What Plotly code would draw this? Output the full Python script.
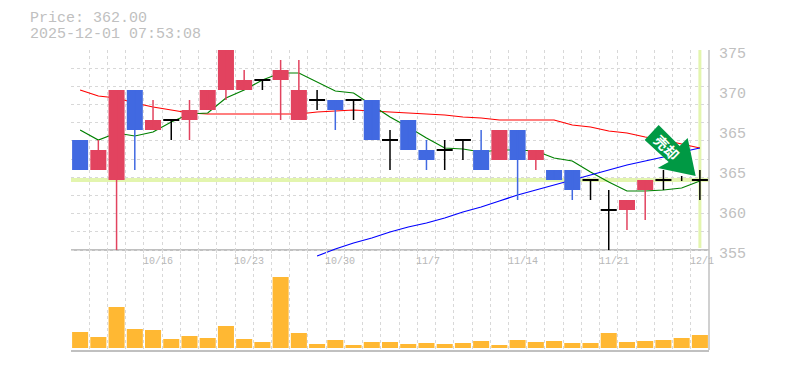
import plotly.graph_objects as go

dates = ["10/9","10/10","10/14","10/15","10/16","10/17","10/20","10/21","10/22","10/23","10/24","10/27",
         "10/28","10/29","10/30","10/31","11/4","11/5","11/6","11/7","11/10","11/11","11/12","11/13","11/14",
         "11/17","11/18","11/19","11/20","11/21","11/25","11/26","11/27","11/28","12/1"]
opens = [366,363,362,371,367,368,368,369,371,371,372,372,368,370,370,370,370,366,368,365,365,366,365,364,367,364,363,363,362,359,359,361,362,None,362]
closes = [363,365,371,367,368,368,369,371,375,372,372,373,371,370,369,370,366,366,365,364,365,366,363,367,364,365,362,361,362,359,360,362,362,None,362]
highs = [366,366,371,371,370,368,370,371,375,373,372,374,374,371,370,370,370,367,368,366,366,366,367,367,367,365,363,363,362,361,360,362,363,362.4,363]
lows = [363,363,355,363,367,366,366,369,370,371,371,368,368,369,367,368,366,363,365,363,363,364,363,364,360,363,362,360,360,355,357,358,361,361.9,360]
volumes = [16,11,41,19,18,9,12,10,22,9,6,71,15,4,8,3,6,6,4,5,4,5,7,3,8,6,7,5,5,15,6,7,8,10,13]
ma_green = [367.0,366.0,366.7,366.4,366.8,367.8,368.6,368.7,370.2,371.0,372.0,372.7,372.7,371.8,370.9,370.7,369.5,368.3,367.3,366.2,365.2,365.1,364.8,365.0,365.0,364.9,364.2,363.9,362.8,361.8,360.9,360.9,361.0,361.2,361.9]
ma_red = [371.0,370.4,370.2,369.7,369.3,369.0,368.7,368.6,368.6,368.6,368.6,368.6,368.6,368.8,368.9,369.0,368.9,368.8,368.7,368.6,368.5,368.3,368.2,368.0,368.0,368.0,368.0,367.5,367.3,366.9,366.7,366.3,366.0,365.6,365.2]
ma_blue = [None]*13 + [354.4,355.1,355.7,356.2,356.8,357.3,357.7,358.2,358.8,359.3,359.9,360.5,361.0,361.5,362.0,362.5,363.0,363.5,363.9,364.3,364.8,365.2]
last_price = 362
y_labels = ["355","360","365","365","370","375"]
y_label_vals = [355,359,363,367,371,375]
x_label_dates = ["10/16","10/23","10/30","11/7","11/14","11/21","12/1"]

UP, DOWN, DOJI = "#E2435F", "#4169E1", "#000000"
GRAY = "#c0c0c0"; GRID = "#d8d8d8"
idx = list(range(len(dates)))

def col(o, c):
    if o is None:
        return DOJI
    return UP if c > o else DOWN if c < o else DOJI

fig = go.Figure()
# moving averages sit behind the candles (main subplot)
for vals, color in ((ma_red, "#FF0000"), (ma_green, "#008000"), (ma_blue, "#0000FF")):
    fig.add_trace(go.Scatter(x=idx, y=vals, mode="lines", line=dict(color=color, width=1.2),
                             xaxis="x", yaxis="y", hoverinfo="skip"))
# candle bodies on an overlay subplot
body_x, body_base, body_h, cols = [], [], [], []
for i, o, c in zip(idx, opens, closes):
    if o is None:
        continue
    body_x.append(i)
    if o == c:
        body_base.append(o - 0.05); body_h.append(0.1); cols.append(DOJI)
    else:
        body_base.append(min(o, c)); body_h.append(abs(c - o)); cols.append(col(o, c))
fig.add_trace(go.Bar(x=body_x, y=body_h, base=body_base, width=0.88, marker=dict(color=cols, line_width=0),
                     xaxis="x3", yaxis="y3", hoverinfo="skip"))
for c_name in (UP, DOWN, DOJI):
    xs, ys = [], []
    for i in idx:
        if col(opens[i], closes[i]) == c_name:
            xs += [i, i, None]; ys += [lows[i], highs[i], None]
    fig.add_trace(go.Scatter(x=xs, y=ys, mode="lines", line=dict(color=c_name, width=1.5),
                             xaxis="x3", yaxis="y3", hoverinfo="skip"))
fig.add_trace(go.Bar(x=idx, y=volumes, width=0.88, marker=dict(color="#FFB833", line_width=0),
                     xaxis="x", yaxis="y2", hoverinfo="skip"))

grid = dict(showgrid=True, gridcolor=GRID, griddash="3px,3px", gridwidth=1)
xcommon = dict(range=[-0.5, 34.5], tickmode="linear", tick0=-0.5, dtick=1, showticklabels=False, ticks="", zeroline=False)
# the price axis runs one unit below 355 so the blue average can dip under the panel edge
fig.update_layout(
    width=777, height=362, margin=dict(l=63, r=76, t=42, b=20), autosize=False,
    paper_bgcolor="white", plot_bgcolor="rgba(0,0,0,0)", showlegend=False, barmode="overlay",
    font=dict(family="Liberation Mono", color=GRAY),
    xaxis=dict(**xcommon, **grid, anchor="y2", showline=True, linecolor=GRAY, linewidth=2, mirror=False),
    xaxis3=dict(**xcommon, showgrid=False, anchor="y3", overlaying="x", visible=False),
    yaxis=dict(domain=[0.3, 1], range=[354, 375], tickmode="linear", tick0=355, dtick=20/11, showticklabels=False,
               ticks="", zeroline=False, **grid, side="right", anchor="x"),
    yaxis2=dict(domain=[0, 1/3], range=[-2, 98], showticklabels=False, ticks="", zeroline=False, showgrid=False, anchor="x"),
    yaxis3=dict(range=[354, 375], overlaying="y", visible=False, anchor="x3"),
)
# panel edge and right-hand frame
fig.add_shape(type="line", xref="paper", yref="y", x0=0, x1=1, y0=355, y1=355, line=dict(color=GRAY, width=2), layer="below")
fig.add_shape(type="line", xref="paper", yref="paper", x0=1, x1=1, y0=0, y1=1, line=dict(color=GRAY, width=1.5))
# last-price cross hairs, under the traces
fig.add_shape(type="line", xref="paper", yref="y", x0=0, x1=1, y0=last_price, y1=last_price,
              line=dict(color="#E3F5AE", width=4), layer="below")
fig.add_shape(type="line", xref="x", yref="y", x0=34, x1=34, y0=355.2, y1=375,
              line=dict(color="#E3F5AE", width=3), layer="below")
# signal arrow anchored near the last candles, size in pixels
fig.add_shape(type="path", xref="x", yref="y", xsizemode="pixel", ysizemode="pixel", xanchor=33, yanchor=362,
              path="M -23 55 L -37 40 L -13 18 L -24 12 L 14 4 L 6 42 L -2 34 Z",
              fillcolor="#009944", line_width=0, layer="above")
fig.add_annotation(xref="x", yref="y", x=33, y=362, xshift=-15, yshift=33, text="<b>売却</b>", showarrow=False, textangle=45,
                   font=dict(family="Noto Sans CJK JP", size=14, color="white"))
for t, v in zip(y_labels, y_label_vals):
    fig.add_annotation(xref="paper", yref="y", x=1, y=v, xshift=8, yshift=-4, xanchor="left", text=t, showarrow=False,
                       font=dict(size=15, color=GRAY))
for t in x_label_dates:
    fig.add_annotation(xref="x", yref="paper", x=dates.index(t), y=1/3, yshift=-19, xshift=-12, xanchor="left", text=t,
                       showarrow=False, font=dict(size=10, color="#b8b8b8"))
fig.add_annotation(xref="paper", yref="paper", x=0, y=1, xshift=-43, yshift=32, xanchor="left", yanchor="middle",
                   text="Price: 362.00", showarrow=False, font=dict(size=15, color=GRAY))
fig.add_annotation(xref="paper", yref="paper", x=0, y=1, xshift=-43, yshift=16, xanchor="left", yanchor="middle",
                   text="2025-12-01 07:53:08", showarrow=False, font=dict(size=15, color=GRAY))
fig.write_html("out.html")
